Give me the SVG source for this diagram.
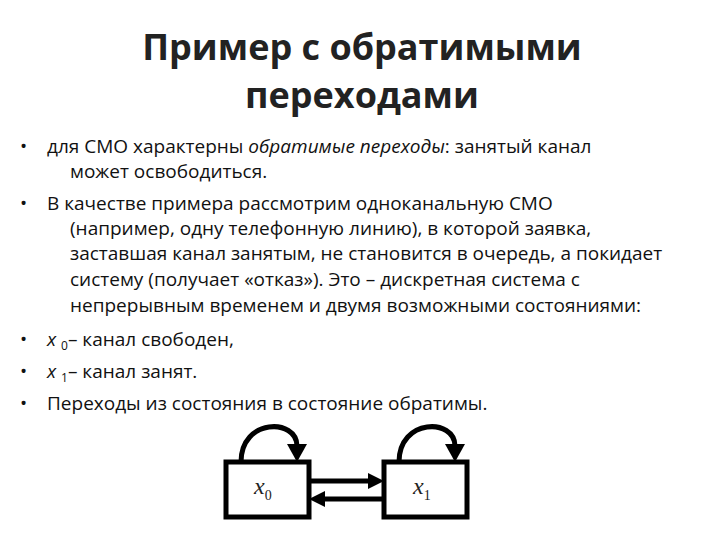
<svg xmlns="http://www.w3.org/2000/svg" width="720" height="540" viewBox="0 0 720 540">
<style>
.t{font-family:"Open Sans","Liberation Sans",sans-serif;font-size:36px;font-weight:bold;fill:#222;text-anchor:middle}
.b{font-family:"Open Sans","Liberation Sans",sans-serif;font-size:19px;fill:#111}
.box{fill:#fff;stroke:#000;stroke-width:5}
.c{fill:none;stroke:#000;stroke-width:5}
.h{fill:#000}
.l{font-family:"Liberation Serif",serif;font-style:italic;font-size:24px;fill:#222}
</style>
<rect width="720" height="540" fill="#fff"/>
<text class="t" x="362" y="60">Пример с обратимыми</text>
<text class="t" x="362" y="108">переходами</text>
<g class="b">
<text x="20" y="153">•</text><text x="47" y="153">для СМО характерны <tspan font-style="italic">обратимые переходы</tspan>: занятый канал</text>
<text x="70" y="178">может освободиться.</text>
<text x="20" y="210">•</text><text x="47" y="210">В качестве примера рассмотрим одноканальную СМО</text>
<text x="70" y="235">(например, одну телефонную линию), в которой заявка,</text>
<text x="70" y="260">заставшая канал занятым, не становится в очередь, а покидает</text>
<text x="70" y="286">систему (получает «отказ»). Это – дискретная система с</text>
<text x="70" y="312">непрерывным временем и двумя возможными состояниями:</text>
<text x="20" y="346">•</text><text x="47" y="346"><tspan font-style="italic">x </tspan><tspan font-size="12" dy="4">0</tspan><tspan dy="-4">– канал свободен,</tspan></text>
<text x="20" y="378">•</text><text x="47" y="378"><tspan font-style="italic">x </tspan><tspan font-size="12" dy="4">1</tspan><tspan dy="-4">– канал занят.</tspan></text>
<text x="20" y="410">•</text><text x="47" y="410">Переходы из состояния в состояние обратимы.</text>
</g>
<g id="connectors">
<path class="c" d="M241,462 C241,418 297,418 297,446"/>
<path class="h" d="M287,444 L307,444 L297,462z"/>
<path class="c" d="M399,462 C399,418 455,418 455,446"/>
<path class="h" d="M445,444 L465,444 L455,462z"/>
<path class="c" d="M309,481 L370,481"/>
<path class="h" d="M368,473 L384,481 L368,489z"/>
<path class="c" d="M384,499 L323,499"/>
<path class="h" d="M325,491 L309,499 L325,507z"/>
</g>
<g id="x0"><rect class="box" x="226" y="462" width="83" height="55"/><text class="l" x="254" y="494">x<tspan font-size="14" dy="6" font-style="normal">0</tspan></text></g>
<g id="x1"><rect class="box" x="384" y="462" width="83" height="55"/><text class="l" x="413" y="494">x<tspan font-size="14" dy="6" font-style="normal">1</tspan></text></g>
</svg>
